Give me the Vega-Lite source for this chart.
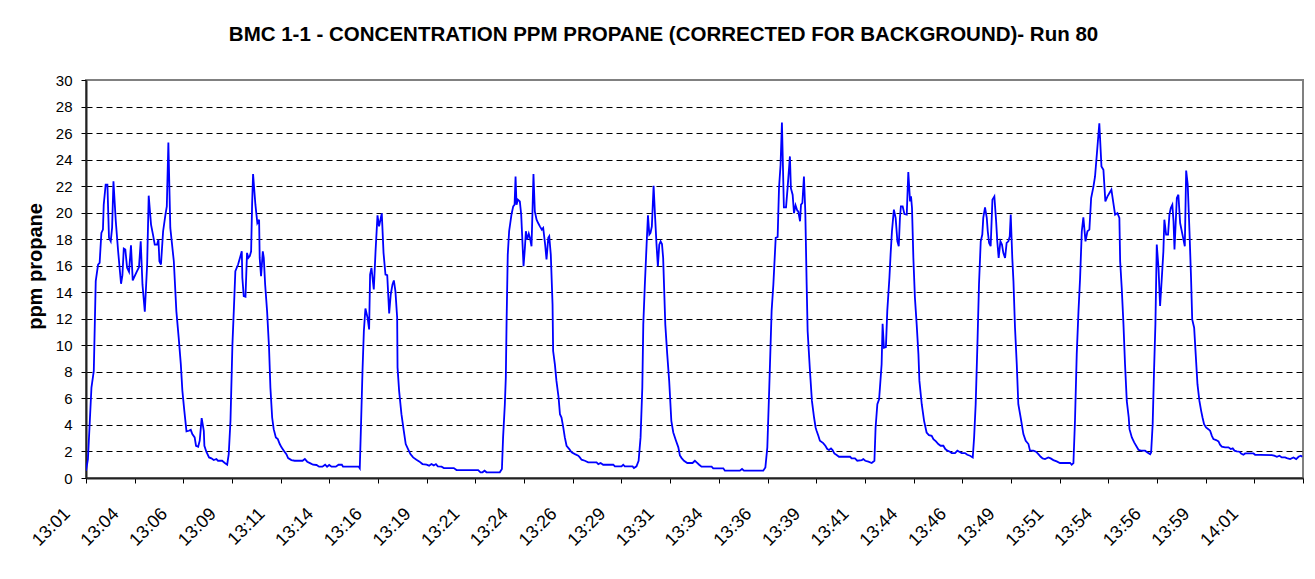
{
  "$schema": "https://vega.github.io/schema/vega-lite/v6.json",
  "width": 1217,
  "height": 398,
  "autosize": {"type": "none"},
  "padding": {"left": 86, "top": 80, "right": 12, "bottom": 101},
  "background": "white",
  "title": {
    "text": "BMC 1-1 - CONCENTRATION PPM PROPANE (CORRECTED FOR BACKGROUND)- Run 80",
    "font": "Liberation Sans",
    "fontSize": 20.5,
    "fontWeight": "bold",
    "color": "black",
    "anchor": "middle",
    "dx": -31,
    "offset": 12,
    "baseline": "alphabetic"
  },
  "data": {"values": [
{"t":1.5,"ppm":0.55},{"t":1.6,"ppm":1.43},{"t":1.78,"ppm":6.82},{"t":1.9,"ppm":8.07},{"t":2.0,"ppm":14.84},{"t":2.12,"ppm":16.09},{"t":2.2,"ppm":16.22},{"t":2.29,"ppm":18.47},{"t":2.37,"ppm":18.72},{"t":2.41,"ppm":20.6},{"t":2.51,"ppm":22.11},{"t":2.6,"ppm":22.11},{"t":2.68,"ppm":18.1},{"t":2.77,"ppm":17.84},{"t":2.84,"ppm":18.85},{"t":2.91,"ppm":22.36},{"t":3.03,"ppm":19.35},{"t":3.15,"ppm":17.09},{"t":3.3,"ppm":14.64},{"t":3.37,"ppm":15.29},{"t":3.44,"ppm":17.29},{"t":3.52,"ppm":17.22},{"t":3.61,"ppm":15.84},{"t":3.71,"ppm":15.54},{"t":3.81,"ppm":17.54},{"t":3.9,"ppm":14.89},{"t":4.0,"ppm":15.21},{"t":4.12,"ppm":15.59},{"t":4.22,"ppm":15.89},{"t":4.31,"ppm":17.84},{"t":4.4,"ppm":14.59},{"t":4.52,"ppm":12.53},{"t":4.64,"ppm":16.09},{"t":4.72,"ppm":21.28},{"t":4.84,"ppm":19.1},{"t":4.94,"ppm":18.35},{"t":5.03,"ppm":17.59},{"t":5.15,"ppm":17.59},{"t":5.22,"ppm":17.97},{"t":5.27,"ppm":16.34},{"t":5.35,"ppm":16.09},{"t":5.46,"ppm":18.6},{"t":5.58,"ppm":19.85},{"t":5.65,"ppm":20.48},{"t":5.73,"ppm":25.29},{"t":5.83,"ppm":18.85},{"t":6.01,"ppm":16.34},{"t":6.14,"ppm":12.58},{"t":6.26,"ppm":10.58},{"t":6.37,"ppm":8.57},{"t":6.45,"ppm":6.57},{"t":6.55,"ppm":5.06},{"t":6.66,"ppm":3.51},{"t":6.78,"ppm":3.56},{"t":6.88,"ppm":3.63},{"t":6.96,"ppm":3.31},{"t":7.08,"ppm":3.06},{"t":7.15,"ppm":2.43},{"t":7.26,"ppm":2.36},{"t":7.34,"ppm":2.81},{"t":7.44,"ppm":4.51},{"t":7.55,"ppm":3.56},{"t":7.58,"ppm":2.43},{"t":7.68,"ppm":1.98},{"t":7.82,"ppm":1.55},{"t":7.94,"ppm":1.48},{"t":8.06,"ppm":1.35},{"t":8.2,"ppm":1.43},{"t":8.28,"ppm":1.3},{"t":8.49,"ppm":1.3},{"t":8.63,"ppm":1.13},{"t":8.75,"ppm":1.0},{"t":8.83,"ppm":1.8},{"t":8.92,"ppm":4.31},{"t":9.02,"ppm":10.08},{"t":9.09,"ppm":12.58},{"t":9.17,"ppm":15.59},{"t":9.31,"ppm":16.09},{"t":9.43,"ppm":16.72},{"t":9.5,"ppm":17.09},{"t":9.53,"ppm":15.09},{"t":9.6,"ppm":13.71},{"t":9.69,"ppm":13.66},{"t":9.77,"ppm":16.97},{"t":9.84,"ppm":16.59},{"t":9.91,"ppm":16.72},{"t":9.98,"ppm":17.09},{"t":10.03,"ppm":20.6},{"t":10.08,"ppm":22.91},{"t":10.2,"ppm":20.6},{"t":10.3,"ppm":19.22},{"t":10.39,"ppm":19.47},{"t":10.42,"ppm":16.59},{"t":10.49,"ppm":15.21},{"t":10.58,"ppm":17.09},{"t":10.63,"ppm":16.59},{"t":10.7,"ppm":14.59},{"t":10.8,"ppm":12.58},{"t":10.9,"ppm":9.82},{"t":10.97,"ppm":6.82},{"t":11.06,"ppm":4.56},{"t":11.14,"ppm":3.68},{"t":11.25,"ppm":3.06},{"t":11.35,"ppm":2.93},
{"t":11.45,"ppm":2.56},{"t":11.54,"ppm":2.31},{"t":11.66,"ppm":2.06},{"t":11.79,"ppm":1.8},{"t":11.88,"ppm":1.5},{"t":12.05,"ppm":1.35},{"t":12.22,"ppm":1.3},{"t":12.62,"ppm":1.3},{"t":12.74,"ppm":1.43},{"t":12.86,"ppm":1.23},{"t":13.03,"ppm":1.1},{"t":13.16,"ppm":1.0},{"t":13.34,"ppm":0.98},{"t":13.47,"ppm":0.85},{"t":13.64,"ppm":0.85},{"t":13.78,"ppm":1.0},{"t":13.88,"ppm":0.85},{"t":13.99,"ppm":0.98},{"t":14.11,"ppm":0.85},{"t":14.33,"ppm":0.85},{"t":14.47,"ppm":1.0},{"t":14.64,"ppm":1.0},{"t":14.7,"ppm":0.85},{"t":15.51,"ppm":0.85},{"t":15.56,"ppm":0.73},{"t":15.63,"ppm":4.31},{"t":15.7,"ppm":8.07},{"t":15.77,"ppm":11.08},{"t":15.85,"ppm":12.78},{"t":15.96,"ppm":12.08},{"t":16.04,"ppm":11.2},{"t":16.09,"ppm":15.34},{"t":16.16,"ppm":15.84},{"t":16.28,"ppm":14.21},{"t":16.37,"ppm":17.09},{"t":16.47,"ppm":19.8},{"t":16.55,"ppm":18.97},{"t":16.64,"ppm":19.6},{"t":16.69,"ppm":19.95},{"t":16.78,"ppm":16.97},{"t":16.88,"ppm":15.34},{"t":16.97,"ppm":15.29},{"t":17.07,"ppm":12.41},{"t":17.15,"ppm":13.83},{"t":17.24,"ppm":14.59},{"t":17.31,"ppm":14.89},{"t":17.39,"ppm":14.09},{"t":17.48,"ppm":12.08},{"t":17.5,"ppm":8.32},{"t":17.58,"ppm":6.57},{"t":17.7,"ppm":4.81},{"t":17.82,"ppm":3.56},{"t":17.92,"ppm":2.56},{"t":18.04,"ppm":2.18},{"t":18.16,"ppm":1.8},{"t":18.3,"ppm":1.55},{"t":18.47,"ppm":1.38},{"t":18.61,"ppm":1.25},{"t":18.78,"ppm":1.05},{"t":18.99,"ppm":1.0},{"t":19.12,"ppm":0.93},{"t":19.24,"ppm":1.05},{"t":19.36,"ppm":0.95},{"t":19.47,"ppm":1.05},{"t":19.57,"ppm":0.88},{"t":19.76,"ppm":0.85},{"t":19.88,"ppm":0.75},{"t":20.39,"ppm":0.75},{"t":20.53,"ppm":0.6},{"t":21.64,"ppm":0.6},{"t":21.76,"ppm":0.43},{"t":21.86,"ppm":0.43},{"t":21.97,"ppm":0.55},{"t":22.07,"ppm":0.43},
{"t":22.75,"ppm":0.43},{"t":22.86,"ppm":0.68},{"t":22.92,"ppm":3.06},{"t":23.01,"ppm":5.56},{"t":23.06,"ppm":7.57},{"t":23.1,"ppm":11.83},{"t":23.16,"ppm":16.84},{"t":23.23,"ppm":18.6},{"t":23.35,"ppm":19.85},{"t":23.44,"ppm":20.48},{"t":23.51,"ppm":20.6},{"t":23.56,"ppm":22.73},{"t":23.61,"ppm":20.6},{"t":23.68,"ppm":20.98},{"t":23.78,"ppm":20.85},{"t":23.85,"ppm":19.85},{"t":23.92,"ppm":17.59},{"t":23.97,"ppm":15.96},{"t":24.04,"ppm":17.34},{"t":24.09,"ppm":18.6},{"t":24.16,"ppm":17.97},{"t":24.24,"ppm":18.42},{"t":24.3,"ppm":18.1},{"t":24.38,"ppm":17.47},{"t":24.43,"ppm":20.1},{"t":24.48,"ppm":22.91},{"t":24.55,"ppm":20.1},{"t":24.64,"ppm":19.47},{"t":24.72,"ppm":19.22},{"t":24.81,"ppm":18.97},{"t":24.91,"ppm":18.72},{"t":24.98,"ppm":18.85},{"t":25.08,"ppm":17.59},{"t":25.15,"ppm":16.47},{"t":25.24,"ppm":18.1},{"t":25.29,"ppm":18.22},{"t":25.37,"ppm":16.84},{"t":25.46,"ppm":13.08},{"t":25.49,"ppm":9.57},{"t":25.58,"ppm":8.57},{"t":25.66,"ppm":7.32},{"t":25.77,"ppm":6.07},{"t":25.84,"ppm":4.81},{"t":25.92,"ppm":4.56},{"t":26.01,"ppm":3.81},{"t":26.09,"ppm":3.06},{"t":26.18,"ppm":2.43},{"t":26.32,"ppm":2.18},{"t":26.44,"ppm":1.93},{"t":26.61,"ppm":1.8},{"t":26.78,"ppm":1.68},{"t":26.86,"ppm":1.55},{"t":26.95,"ppm":1.38},{"t":27.12,"ppm":1.3},{"t":27.29,"ppm":1.18},{"t":27.72,"ppm":1.18},{"t":27.81,"ppm":1.05},{"t":27.93,"ppm":1.13},{"t":28.06,"ppm":1.0},{"t":28.58,"ppm":1.0},{"t":28.66,"ppm":0.88},{"t":29.0,"ppm":0.88},{"t":29.09,"ppm":1.0},{"t":29.17,"ppm":0.88},{"t":29.57,"ppm":0.88},{"t":29.64,"ppm":0.75},{"t":29.77,"ppm":0.88},{"t":29.88,"ppm":1.3},{"t":29.98,"ppm":3.06},{"t":30.07,"ppm":6.82},{"t":30.12,"ppm":11.58},{"t":30.2,"ppm":14.59},{"t":30.29,"ppm":17.59},{"t":30.36,"ppm":19.8},{"t":30.43,"ppm":18.35},{"t":30.49,"ppm":18.47},{"t":30.56,"ppm":18.97},{"t":30.65,"ppm":22.03},{"t":30.72,"ppm":19.85},{"t":30.8,"ppm":17.59},{"t":30.87,"ppm":15.96},{"t":30.94,"ppm":17.59},{"t":31.01,"ppm":17.84},{"t":31.08,"ppm":17.64},{"t":31.14,"ppm":16.59},{"t":31.25,"ppm":11.58},{"t":31.35,"ppm":9.32},{"t":31.45,"ppm":7.32},{"t":31.56,"ppm":4.31},{"t":31.66,"ppm":3.43},{"t":31.8,"ppm":2.81},{"t":31.92,"ppm":2.31},
{"t":32.0,"ppm":1.7},{"t":32.09,"ppm":1.5},{"t":32.21,"ppm":1.3},{"t":32.38,"ppm":1.13},{"t":32.65,"ppm":1.13},{"t":32.77,"ppm":1.3},{"t":32.86,"ppm":1.18},{"t":32.99,"ppm":1.0},{"t":33.11,"ppm":0.85},{"t":33.63,"ppm":0.85},{"t":33.71,"ppm":0.73},{"t":34.23,"ppm":0.73},{"t":34.31,"ppm":0.55},{"t":35.08,"ppm":0.55},{"t":35.19,"ppm":0.68},{"t":35.29,"ppm":0.55},{"t":36.28,"ppm":0.55},{"t":36.39,"ppm":0.8},{"t":36.49,"ppm":2.31},{"t":36.59,"ppm":6.82},{"t":36.71,"ppm":12.58},{"t":36.8,"ppm":14.59},{"t":36.92,"ppm":18.1},{"t":37.02,"ppm":18.17},{"t":37.09,"ppm":21.85},{"t":37.17,"ppm":23.61},{"t":37.24,"ppm":26.79},{"t":37.34,"ppm":20.4},{"t":37.45,"ppm":20.4},{"t":37.53,"ppm":21.85},{"t":37.65,"ppm":24.24},{"t":37.7,"ppm":21.85},{"t":37.79,"ppm":21.35},{"t":37.86,"ppm":19.97},{"t":37.94,"ppm":20.55},{"t":38.03,"ppm":20.15},{"t":38.08,"ppm":20.1},{"t":38.17,"ppm":19.35},{"t":38.22,"ppm":20.6},{"t":38.29,"ppm":20.73},{"t":38.37,"ppm":22.73},{"t":38.44,"ppm":20.1},{"t":38.51,"ppm":14.59},{"t":38.56,"ppm":11.08},{"t":38.68,"ppm":8.07},{"t":38.78,"ppm":5.81},{"t":38.89,"ppm":4.56},{"t":38.97,"ppm":3.81},{"t":39.02,"ppm":3.56},{"t":39.11,"ppm":3.18},{"t":39.19,"ppm":2.81},{"t":39.36,"ppm":2.63},{"t":39.47,"ppm":2.43},{"t":39.57,"ppm":2.18},{"t":39.66,"ppm":2.11},{"t":39.76,"ppm":2.23},{"t":39.84,"ppm":2.11},{"t":39.93,"ppm":1.85},{"t":40.05,"ppm":1.73},{"t":40.17,"ppm":1.6},{"t":40.74,"ppm":1.6},{"t":40.82,"ppm":1.48},{"t":40.99,"ppm":1.48},{"t":41.11,"ppm":1.3},{"t":41.34,"ppm":1.35},{"t":41.42,"ppm":1.43},{"t":41.52,"ppm":1.3},{"t":41.68,"ppm":1.23},{"t":41.85,"ppm":1.13},{"t":41.99,"ppm":1.3},{"t":42.05,"ppm":3.81},{"t":42.14,"ppm":5.56},{"t":42.23,"ppm":5.94},
{"t":42.36,"ppm":8.57},{"t":42.41,"ppm":11.63},{"t":42.48,"ppm":9.82},{"t":42.58,"ppm":9.87},{"t":42.65,"ppm":12.58},{"t":42.76,"ppm":15.09},{"t":42.82,"ppm":16.84},{"t":42.89,"ppm":18.6},{"t":42.99,"ppm":20.23},{"t":43.08,"ppm":19.6},{"t":43.17,"ppm":17.84},{"t":43.24,"ppm":17.47},{"t":43.3,"ppm":19.6},{"t":43.35,"ppm":20.48},{"t":43.44,"ppm":20.48},{"t":43.53,"ppm":19.9},{"t":43.65,"ppm":19.85},{"t":43.73,"ppm":23.06},{"t":43.82,"ppm":20.85},{"t":43.87,"ppm":21.23},{"t":43.92,"ppm":20.35},{"t":43.99,"ppm":16.59},{"t":44.07,"ppm":13.58},{"t":44.16,"ppm":11.58},{"t":44.25,"ppm":9.32},{"t":44.3,"ppm":7.32},{"t":44.42,"ppm":5.56},{"t":44.54,"ppm":4.31},{"t":44.67,"ppm":3.43},{"t":44.79,"ppm":3.23},{"t":44.93,"ppm":3.18},{"t":45.02,"ppm":2.93},{"t":45.15,"ppm":2.76},{"t":45.27,"ppm":2.56},{"t":45.39,"ppm":2.43},{"t":45.53,"ppm":2.43},{"t":45.63,"ppm":2.18},{"t":45.74,"ppm":2.06},{"t":45.87,"ppm":1.98},{"t":45.96,"ppm":1.88},{"t":46.13,"ppm":1.88},{"t":46.25,"ppm":2.06},{"t":46.35,"ppm":1.98},{"t":46.47,"ppm":1.88},{"t":46.64,"ppm":1.88},{"t":46.76,"ppm":1.75},{"t":46.9,"ppm":1.68},{"t":47.04,"ppm":1.55},{"t":47.11,"ppm":3.06},{"t":47.19,"ppm":5.56},{"t":47.28,"ppm":10.08},{"t":47.36,"ppm":14.59},{"t":47.45,"ppm":17.84},{"t":47.53,"ppm":18.35},{"t":47.58,"ppm":19.6},{"t":47.67,"ppm":20.4},{"t":47.76,"ppm":19.6},{"t":47.81,"ppm":18.6},{"t":47.88,"ppm":17.72},{"t":47.96,"ppm":17.47},{"t":48.05,"ppm":20.98},{"t":48.15,"ppm":21.23},{"t":48.24,"ppm":19.35},{"t":48.3,"ppm":17.84},{"t":48.37,"ppm":16.59},{"t":48.46,"ppm":17.84},{"t":48.54,"ppm":17.59},{"t":48.61,"ppm":16.97},{"t":48.7,"ppm":16.59},{"t":48.78,"ppm":17.72},{"t":48.87,"ppm":17.84},{"t":48.94,"ppm":18.22},{"t":48.99,"ppm":19.85},{"t":49.07,"ppm":16.59},{"t":49.13,"ppm":14.84},{"t":49.21,"ppm":11.33},{"t":49.3,"ppm":8.57},{"t":49.38,"ppm":5.56},{"t":49.5,"ppm":4.56},{"t":49.64,"ppm":3.31},{"t":49.76,"ppm":2.81},{"t":49.9,"ppm":2.56},{"t":49.98,"ppm":2.06},{"t":50.15,"ppm":2.06},{"t":50.29,"ppm":1.98},{"t":50.41,"ppm":1.8},{"t":50.53,"ppm":1.6},{"t":50.63,"ppm":1.48},{"t":50.75,"ppm":1.43},{"t":50.92,"ppm":1.55},{"t":51.04,"ppm":1.48},{"t":51.18,"ppm":1.35},{"t":51.35,"ppm":1.25},{"t":51.52,"ppm":1.13},{"t":52.04,"ppm":1.13},{"t":52.12,"ppm":1.0},{"t":52.21,"ppm":1.13},{"t":52.29,"ppm":4.31},{"t":52.38,"ppm":9.32},{"t":52.47,"ppm":12.58},
{"t":52.55,"ppm":15.0},{"t":52.64,"ppm":18.6},{"t":52.72,"ppm":19.65},{"t":52.83,"ppm":17.84},{"t":52.93,"ppm":18.6},{"t":53.03,"ppm":18.72},{"t":53.12,"ppm":21.1},{"t":53.24,"ppm":21.98},{"t":53.32,"ppm":22.73},{"t":53.41,"ppm":24.36},{"t":53.54,"ppm":26.74},{"t":53.65,"ppm":23.48},{"t":53.75,"ppm":23.23},{"t":53.85,"ppm":20.85},{"t":53.96,"ppm":21.23},{"t":54.06,"ppm":21.48},{"t":54.16,"ppm":21.73},{"t":54.26,"ppm":20.73},{"t":54.35,"ppm":19.85},{"t":54.47,"ppm":19.97},{"t":54.57,"ppm":19.6},{"t":54.61,"ppm":16.34},{"t":54.69,"ppm":14.34},{"t":54.78,"ppm":11.58},{"t":54.86,"ppm":8.57},{"t":54.95,"ppm":5.81},{"t":55.05,"ppm":4.56},{"t":55.09,"ppm":3.68},{"t":55.21,"ppm":3.06},{"t":55.33,"ppm":2.68},{"t":55.46,"ppm":2.36},{"t":55.55,"ppm":2.13},{"t":55.67,"ppm":2.06},{"t":55.89,"ppm":2.06},{"t":56.01,"ppm":1.93},{"t":56.15,"ppm":1.8},{"t":56.2,"ppm":1.93},{"t":56.28,"ppm":4.06},{"t":56.35,"ppm":8.07},{"t":56.42,"ppm":11.58},{"t":56.49,"ppm":17.59},{"t":56.58,"ppm":15.84},{"t":56.66,"ppm":12.96},{"t":56.75,"ppm":15.09},{"t":56.83,"ppm":17.09},{"t":56.88,"ppm":19.47},{"t":56.97,"ppm":18.35},{"t":57.07,"ppm":18.35},{"t":57.14,"ppm":19.85},{"t":57.21,"ppm":20.35},{"t":57.29,"ppm":20.6},{"t":57.35,"ppm":19.35},{"t":57.4,"ppm":17.22},{"t":57.47,"ppm":19.47},{"t":57.52,"ppm":21.1},{"t":57.6,"ppm":21.35},{"t":57.69,"ppm":19.22},{"t":57.81,"ppm":18.35},{"t":57.93,"ppm":17.47},{"t":58.0,"ppm":23.18},{"t":58.08,"ppm":22.11},{"t":58.17,"ppm":18.6},{"t":58.25,"ppm":15.09},{"t":58.31,"ppm":11.96},{"t":58.41,"ppm":11.33},{"t":58.49,"ppm":9.32},{"t":58.58,"ppm":7.07},{"t":58.68,"ppm":5.81},{"t":58.77,"ppm":5.06},{"t":58.84,"ppm":4.56},{"t":58.92,"ppm":4.06},{"t":59.02,"ppm":3.81},{"t":59.14,"ppm":3.68},{"t":59.23,"ppm":3.56},{"t":59.32,"ppm":3.18},{"t":59.4,"ppm":2.93},{"t":59.54,"ppm":2.86},{"t":59.66,"ppm":2.76},{"t":59.74,"ppm":2.51},{"t":59.83,"ppm":2.36},{"t":60.0,"ppm":2.31},{"t":60.17,"ppm":2.31},{"t":60.29,"ppm":2.18},{"t":60.39,"ppm":2.23},{"t":60.48,"ppm":2.06},{"t":60.6,"ppm":2.01},{"t":60.74,"ppm":1.98},{"t":60.82,"ppm":1.85},{"t":60.94,"ppm":1.75},{"t":61.03,"ppm":1.85},{"t":61.2,"ppm":1.85},{"t":61.46,"ppm":1.85},{"t":61.54,"ppm":1.75},{"t":61.8,"ppm":1.75},{"t":62.4,"ppm":1.73},{"t":62.52,"ppm":1.68},{"t":62.66,"ppm":1.6},{"t":62.79,"ppm":1.68},{"t":62.91,"ppm":1.55},{"t":63.08,"ppm":1.55},{"t":63.17,"ppm":1.5},{"t":63.34,"ppm":1.43},{"t":63.51,"ppm":1.55},{"t":63.65,"ppm":1.43},{"t":63.77,"ppm":1.6},{"t":63.89,"ppm":1.68},{"t":63.96,"ppm":1.6}
  ]},
  "mark": {"type": "line", "color": "#0000FF", "strokeWidth": 1.8, "clip": true},
  "encoding": {
    "x": {
      "field": "t",
      "type": "quantitative",
      "scale": {"domain": [1.5, 64], "nice": false, "zero": false},
      "axis": {
        "title": null,
        "values": [1.5, 4, 6.5, 9, 11.5, 14, 16.5, 19, 21.5, 24, 26.5, 29, 31.5, 34, 36.5, 39, 41.5, 44, 46.5, 49, 51.5, 54, 56.5, 59, 61.5, 64],
        "labelExpr": "datum.value > 63 ? '' : (13 + floor(datum.value / 60)) + ':' + (floor(datum.value % 60) < 10 ? '0' : '') + floor(datum.value % 60)",
        "labelAngle": -45,
        "labelAlign": "right",
        "labelBaseline": "middle",
        "labelFont": "Liberation Sans",
        "labelFontSize": 18,
        "labelColor": "black",
        "labelPadding": 28,
        "labelOffset": -19,
        "labelOverlap": false,
        "labelBound": false,
        "labelFlush": false,
        "tickColor": "black",
        "tickSize": 5,
        "tickWidth": 1,
        "domainColor": "#222222",
        "domainWidth": 2,
        "grid": false
      }
    },
    "y": {
      "field": "ppm",
      "type": "quantitative",
      "scale": {"domain": [0, 30], "nice": false},
      "axis": {
        "title": "ppm propane",
        "titleFont": "Liberation Sans",
        "titleFontSize": 20,
        "titleFontWeight": "bold",
        "titleColor": "black",
        "titleAngle": -90,
        "titleAlign": "center",
        "titleBaseline": "middle",
        "titleX": -51,
        "titleY": 186,
        "values": [0, 2, 4, 6, 8, 10, 12, 14, 16, 18, 20, 22, 24, 26, 28, 30],
        "labelFont": "Liberation Sans",
        "labelFontSize": 15,
        "labelColor": "black",
        "labelPadding": 9,
        "tickColor": "black",
        "tickSize": 5,
        "tickWidth": 1,
        "domainColor": "#222222",
        "domainWidth": 2,
        "grid": true,
        "gridColor": {"condition": {"test": "datum.value == 0 || datum.value == 30", "value": "transparent"}, "value": "black"},
        "gridDash": [6, 4],
        "gridWidth": 1
      }
    }
  },
  "config": {
    "font": "Liberation Sans",
    "view": {"stroke": "#808080", "strokeWidth": 2}
  }
}
